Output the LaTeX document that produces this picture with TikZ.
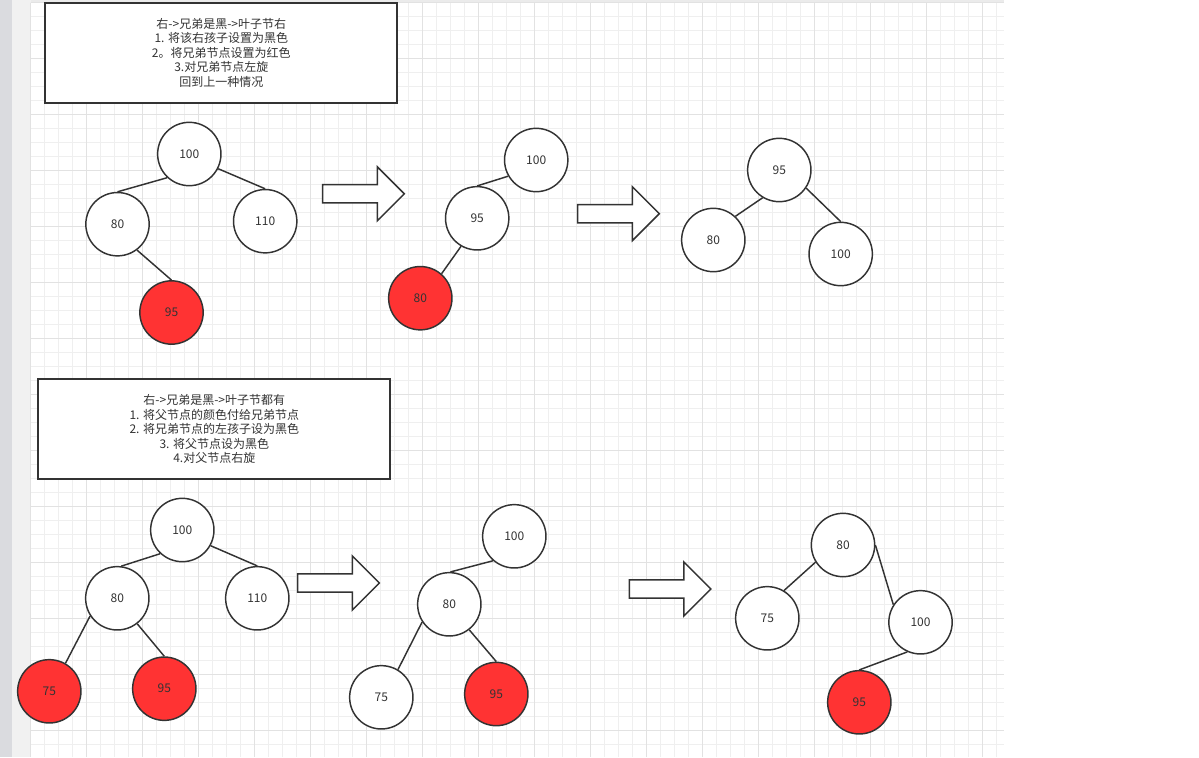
\documentclass[tikz,border=0pt]{standalone}
\usepackage{fontspec}
\setmainfont{Noto Sans CJK SC}
\definecolor{ink}{HTML}{333333}
\definecolor{nodered}{HTML}{FF3333}
\definecolor{gridminor}{HTML}{EFEFEF}
\definecolor{gridmajor}{HTML}{E2E2E2}
\definecolor{sidebar}{HTML}{DADBDF}
\definecolor{sidepanel}{HTML}{F1F1F1}
\tikzset{
  treenode/.style={circle, draw=ink, line width=1.1pt, fill=white, minimum size=47.5pt,
    inner sep=0pt, text=ink, font=\fontsize{9pt}{10pt}\selectfont},
  rednode/.style={treenode, fill=nodered},
  edge/.style={draw=ink, line width=1.1pt},
  notebox/.style={draw=ink, line width=1.5pt, fill=white, text=ink, align=center,
    font=\fontsize{9pt}{10.9pt}\selectfont},
  blockarrow/.pic={
    \draw[ink, line width=1.1pt, fill=white, line join=miter]
      (0,-9.15) -- (54.6,-9.15) -- (54.6,-27) -- (81.6,0) -- (54.6,27)
      -- (54.6,9.15) -- (0,9.15) -- cycle;
  }
}
\begin{document}
\begin{tikzpicture}[x=0.75pt, y=-0.75pt]
\useasboundingbox (0,0) rectangle (1199,757);
% page background, side panels and drawing grid
\fill[white] (0,0) rectangle (1199,757);
\fill[sidebar] (0,0) rectangle (12,757);
\fill[sidepanel] (12,0) rectangle (30.7,757);
\fill[gridmajor!70] (30.7,0) rectangle (1003.5,2.7);
\foreach \i in {0,...,69} {
  \draw[gridminor, line width=0.75pt] ({30.7+14*\i},2.7) -- ({30.7+14*\i},757);
}
\foreach \j in {0,...,53} {
  \draw[gridminor, line width=0.75pt] (30.7,{2.7+14*\j}) -- (1003.5,{2.7+14*\j});
}
\foreach \i in {0,...,17} {
  \draw[gridmajor, line width=0.75pt] ({30.7+56*\i},2.7) -- ({30.7+56*\i},757);
}
\foreach \j in {0,...,13} {
  \draw[gridmajor, line width=0.75pt] (30.7,{2.7+56*\j}) -- (1003.5,{2.7+56*\j});
}

% case 1: right child, black sibling with a right leaf
\node[notebox, minimum width=264pt, minimum height=75.2pt] (note1) at (221.3,52.85)
  {右->兄弟是黑->叶子节右\\1. 将该右孩子设置为黑色\\2。将兄弟节点设置为红色\\3.对兄弟节点左旋\\回到上一种情况};

\node[treenode] (A100) at (189.3,154) {100};
\node[treenode] (A80) at (117.5,224.2) {80};
\node[treenode] (A110) at (265.2,221.2) {110};
\node[rednode] (A95) at (171.5,312.5) {95};
\draw[edge] (A100.227) -- (A80.90);
\draw[edge] (A100.333) -- (A110.90);
\draw[edge] (A80.307) -- (A95.90);

\pic at (322.7,193.8) {blockarrow};

\node[treenode] (B100) at (536.2,160) {100};
\node[treenode] (B95) at (477.2,218.3) {95};
\node[rednode] (B80) at (420.3,298.2) {80};
\draw[edge] (B100.210) -- (B95.90);
\draw[edge] (B95.240) -- (B80.49);

\pic at (577.7,213.7) {blockarrow};

\node[treenode] (C95) at (779.3,170) {95};
\node[treenode] (C80) at (713.3,240) {80};
\node[treenode] (C100) at (840.7,254) {100};
\draw[edge] (C95.239) -- (C80.47);
\draw[edge] (C95.326) -- (C100.90);

% case 2: right child, black sibling with both leaves
\node[notebox, minimum width=264pt, minimum height=74.8pt] (note2) at (214.3,429.15)
  {右->兄弟是黑->叶子节都有\\1. 将父节点的颜色付给兄弟节点\\2. 将兄弟节点的左孩子设为黑色\\3. 将父节点设为黑色\\4.对父节点右旋};

\node[treenode] (D100) at (182.3,530) {100};
\node[treenode] (D80) at (117.3,598.3) {80};
\node[treenode] (D110) at (257.3,598.3) {110};
\node[rednode] (D75) at (49.3,691.3) {75};
\node[rednode] (D95) at (164.3,688.7) {95};
\draw[edge] (D100.227) -- (D80.83);
\draw[edge] (D100.331) -- (D110.90);
\draw[edge] (D80.213) -- (D75.60);
\draw[edge] (D80.308) -- (D95.90);

\pic at (297.7,583) {blockarrow};

\node[treenode] (E100) at (514.3,536.3) {100};
\node[treenode] (E80) at (449.3,604.3) {80};
\node[treenode] (E75) at (381.3,697.3) {75};
\node[rednode] (E95) at (496.3,694) {95};
\draw[edge] (E100.229) -- (E80.88);
\draw[edge] (E80.213) -- (E75.59);
\draw[edge] (E80.308) -- (E95.90);

\pic at (629.3,589) {blockarrow};

\node[treenode] (F80) at (843,545) {80};
\node[treenode] (F75) at (767.3,618.3) {75};
\node[treenode] (F100) at (920.5,622.3) {100};
\node[rednode] (F95) at (859.3,702.3) {95};
\draw[edge] (F80.212) -- (F75.59);
\draw[edge] (F80.0) -- (F100.147);
\draw[edge] (F100.246) -- (F95.90);
\end{tikzpicture}
\end{document}
